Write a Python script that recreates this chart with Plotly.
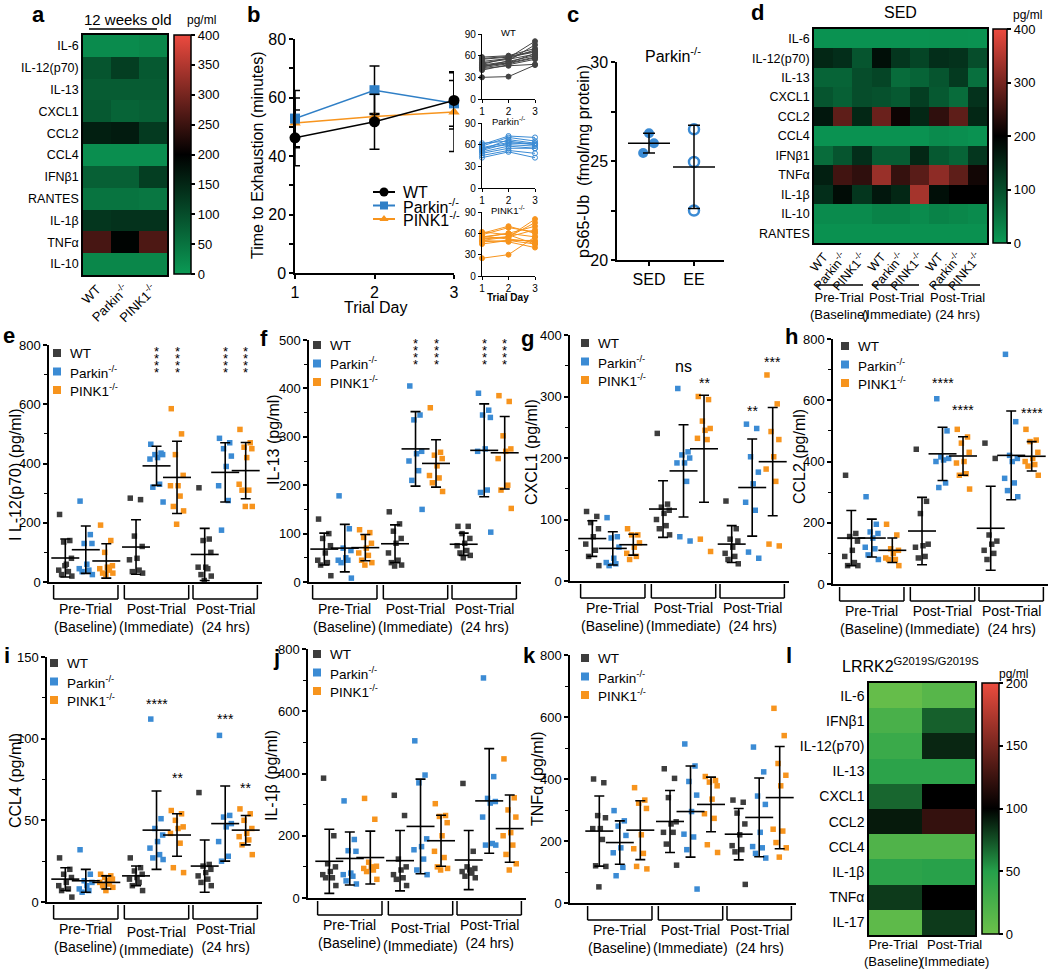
import plotly.graph_objects as go

W, H = 1050, 969
FONT = "Liberation Sans, Arial, Helvetica, sans-serif"
C_WT, C_PK, C_P1 = "#3d3d3d", "#3b8bd4", "#f7941d"
GENO = ["WT", "Parkin<sup>-/-</sup>", "PINK1<sup>-/-</sup>"]

# ---------------- DATA ----------------
# panel a (12 weeks old)
a_rows = ["IL-6", "IL-12(p70)", "IL-13", "CXCL1", "CCL2", "CCL4", "IFNβ1", "RANTES", "IL-1β", "TNFα", "IL-10"]
a_vals = [[20, 20, 25], [90, 120, 85], [80, 80, 80], [85, 70, 75], [160, 165, 125], [15, 15, 15],
          [75, 75, 120], [50, 50, 45], [130, 135, 135], [260, 195, 265], [25, 25, 25]]

# panel b
b_days = [1, 2, 3]
b_wt_mean = [46.2, 51.7, 59.0]
b_wt_sd = [9.5, 9.4, 9.8]
b_pk_mean = [52.8, 62.5, 58.0]
b_pk_sd = [9.6, 8.3, 7.8]
b_p1_mean = [51.3, 53.5, 55.0]
b_p1_sd = [8.5, 1.0, 13.5]
wt_ind = [[30, 31, 47], [42, 46, 48], [45, 50, 58], [50, 55, 62], [55, 58, 65], [58, 60, 70], [40, 48, 55],
          [47, 52, 60], [52, 56, 68], [44, 53, 75], [48, 57, 80], [46, 50, 63], [56, 59, 66], [43, 49, 57]]
pk_ind = [[42, 50, 42], [48, 55, 55], [55, 60, 58], [60, 72, 70], [62, 65, 60], [52, 62, 62], [58, 70, 65],
          [50, 58, 55], [56, 63, 60], [45, 52, 48], [53, 67, 62]]
p1_ind = [[25, 30, 55], [48, 50, 45], [52, 55, 80], [55, 60, 70], [58, 68, 62], [50, 48, 40], [53, 55, 65],
          [60, 70, 60], [45, 50, 50], [56, 52, 48], [62, 58, 45], [50, 55, 75], [54, 60, 55]]

# panel c
c_groups = ["SED", "EE"]
c_sed = [26.4, 25.9, 25.4]
c_ee = [26.6, 24.95, 22.5]
c_mean = [25.9, 24.7]
c_sd = [0.5, 2.1]

# panel d (SED)
d_rows = ["IL-6", "IL-12(p70)", "IL-13", "CXCL1", "CCL2", "CCL4", "IFNβ1", "TNFα", "IL-1β", "IL-10", "RANTES"]
d_vals = [[10, 10, 10, 10, 10, 10, 12, 12, 10],
          [150, 140, 90, 180, 130, 110, 140, 135, 100],
          [70, 70, 100, 110, 60, 70, 90, 125, 55],
          [90, 75, 100, 95, 85, 120, 85, 60, 135],
          [170, 280, 150, 290, 210, 150, 240, 280, 150],
          [10, 10, 10, 10, 10, 10, 20, 15, 10],
          [60, 90, 140, 80, 80, 150, 85, 70, 130],
          [160, 255, 240, 330, 245, 275, 320, 280, 215],
          [140, 185, 130, 170, 150, 340, 180, 200, 200],
          [20, 20, 20, 30, 30, 20, 30, 25, 20],
          [12, 12, 12, 12, 12, 12, 12, 12, 12]]
periods = ["Pre-Trial<br>(Baseline)", "Post-Trial<br>(Immediate)", "Post-Trial<br>(24 hrs)"]

# panels e-k: 9 groups = (Pre WT, Pre Parkin, Pre PINK1, Imm WT, ..., 24h PINK1)
e_pts = [[228, 140, 135, 80, 60, 40, 35, 25, 20, 55], [273, 160, 130, 130, 60, 45, 40, 35, 25],
         [192, 140, 100, 55, 50, 45, 40, 30, 30, 25], [283, 278, 155, 120, 80, 75, 40, 35, 30],
         [465, 435, 430, 430, 420, 415, 330, 320, 270], [585, 500, 430, 360, 325, 325, 290, 255, 240, 195],
         [318, 145, 140, 100, 50, 50, 45, 25, 20, 5], [485, 470, 450, 425, 390, 325, 275, 175],
         [515, 470, 455, 450, 420, 330, 310, 310, 255, 255]]
e_mean = [81, 109, 71, 118, 392, 353, 93, 370, 376]
e_sd = [64, 80, 58, 92, 66, 122, 88, 100, 95]

f_pts = [[130, 100, 90, 75, 60, 45, 40, 35, 13], [178, 110, 70, 65, 50, 45, 45, 40, 8],
         [108, 102, 92, 80, 70, 60, 55, 45, 40, 35], [145, 120, 105, 90, 80, 60, 45, 40, 35, 33],
         [405, 345, 335, 270, 265, 250, 230, 210, 150], [360, 268, 262, 255, 240, 220, 215, 205, 187],
         [115, 115, 100, 90, 80, 75, 65, 60, 55, 50], [390, 355, 345, 340, 275, 270, 190, 185, 103],
         [385, 373, 302, 275, 270, 255, 200, 190, 152]]
f_mean = [68, 70, 71, 79, 275, 245, 78, 272, 267]
f_sd = [33, 49, 27, 39, 77, 49, 23, 96, 75]

g_pts = [[113, 105, 95, 85, 72, 60, 50, 40, 25], [103, 72, 70, 55, 37, 30, 28, 25],
         [85, 75, 75, 62, 55, 45, 40, 35], [240, 125, 120, 115, 110, 100, 90, 85, 75],
         [313, 210, 205, 200, 192, 192, 162, 72, 65], [300, 295, 260, 248, 245, 232, 230, 68, 48],
         [130, 85, 68, 65, 55, 45, 40, 35, 28], [255, 248, 202, 177, 158, 128, 115, 47, 37],
         [335, 288, 243, 230, 202, 182, 162, 60, 57]]
g_mean = [69, 53, 59, 117, 179, 215, 60, 152, 194]
g_sd = [29, 27, 17, 46, 75, 87, 30, 79, 88]

h_pts = [[355, 165, 155, 140, 110, 90, 70, 60, 60], [285, 195, 170, 165, 150, 120, 115, 95, 80],
         [195, 160, 115, 110, 100, 85, 80, 80, 60], [440, 270, 230, 130, 125, 120, 90, 85],
         [605, 500, 415, 410, 405, 400, 330, 315], [505, 480, 460, 430, 400, 395, 360, 355, 310],
         [460, 410, 160, 140, 130, 110, 100, 80], [750, 530, 420, 410, 400, 345, 330, 305, 285],
         [505, 470, 465, 430, 410, 400, 390, 385, 355]]
h_mean = [150, 150, 110, 173, 425, 418, 182, 420, 417]
h_sd = [90, 62, 40, 110, 87, 63, 137, 145, 48]

i_pts = [[27, 20, 17, 15, 12, 10, 8, 7, 3], [32, 17, 13, 12, 10, 8, 7, 6],
         [17, 16, 15, 14, 13, 12, 11, 10, 9, 7], [27, 21, 19, 17, 15, 14, 12, 10, 7],
         [112, 51, 45, 41, 37, 33, 29, 27, 26], [56, 54, 50, 46, 45, 42, 36, 21, 18],
         [67, 23, 22, 20, 18, 16, 14, 12, 10], [102, 53, 52, 48, 46, 37, 28, 25],
         [57, 54, 50, 45, 42, 40, 38, 35, 29]]
i_mean = [14, 13, 12, 16, 44, 41, 22, 48, 44]
i_sd = [7, 7, 4, 6, 24, 13, 16, 23, 9]

j_pts = [[385, 200, 110, 100, 85, 75, 65, 65, 40], [312, 188, 152, 150, 80, 75, 70, 55, 45],
         [320, 253, 115, 102, 100, 95, 90, 85, 60], [330, 265, 125, 100, 90, 75, 65, 60, 40],
         [505, 395, 370, 190, 165, 155, 125, 90, 75], [303, 265, 262, 242, 200, 150, 130, 100, 95, 90],
         [368, 150, 100, 95, 90, 85, 80, 70, 65], [707, 390, 320, 310, 305, 260, 175, 170, 170],
         [447, 322, 283, 260, 210, 200, 170, 140, 110, 90]]
j_mean = [118, 127, 130, 120, 230, 184, 122, 312, 223]
j_sd = [103, 85, 85, 97, 152, 82, 95, 168, 108]

k_pts = [[400, 388, 282, 275, 240, 240, 205, 120, 118, 52], [298, 265, 248, 218, 178, 162, 115, 88],
         [372, 332, 322, 305, 220, 175, 160, 118, 110], [433, 402, 340, 262, 255, 228, 228, 190, 122],
         [513, 442, 392, 348, 295, 222, 213, 172, 45], [408, 395, 390, 378, 335, 288, 273, 188, 163],
         [332, 325, 290, 255, 220, 185, 172, 165, 60], [503, 423, 345, 318, 228, 182, 178, 160, 145],
         [628, 540, 450, 412, 378, 238, 232, 195, 178, 148]]
k_mean = [232, 195, 235, 263, 295, 318, 222, 276, 340]
k_sd = [113, 70, 95, 100, 147, 88, 83, 127, 165]

# significance labels: (group index, text, y value, vertical stack?)
e_sig = [(4, "****", 778, True), (5, "****", 778, True), (7, "****", 778, True), (8, "****", 778, True)]
f_sig = [(4, "****", 492, True), (5, "****", 492, True), (7, "****", 492, True), (8, "****", 492, True)]
g_sig = [(4, "ns", 349, False), (5, "**", 322, False), (7, "**", 276, False), (8, "***", 356, False)]
h_sig = [(4, "****", 656, False), (5, "****", 568, False), (7, "****", 806, False), (8, "****", 558, False)]
i_sig = [(4, "****", 121, False), (5, "**", 76, False), (7, "***", 112, False), (8, "**", 70, False)]

# panel l
l_rows = ["IL-6", "IFNβ1", "IL-12(p70)", "IL-13", "CXCL1", "CCL2", "CCL4", "IL-1β", "TNFα", "IL-17"]
l_cols = ["Pre-Trial<br>(Baseline)", "Post-Trial<br>(Immediate)"]
l_vals = [[5, 15], [25, 70], [35, 88], [45, 45], [68, 100], [92, 122], [20, 20], [45, 48], [82, 100], [10, 82]]

# ---------------- HELPERS ----------------
traces, shapes, annotations, layout_axes = [], [], [], {}
count = [0]


def X(x):
    return x / W


def Y(y):
    return 1 - y / H


def new_axes(x0, x1, y0, y1, xa, ya):
    count[0] += 1
    s = "" if count[0] == 1 else str(count[0])
    xa = dict(xa)
    ya = dict(ya)
    xa.update(domain=[X(x0), X(x1)], anchor="y" + s)
    ya.update(domain=[Y(y1), Y(y0)], anchor="x" + s)
    layout_axes["xaxis" + s] = xa
    layout_axes["yaxis" + s] = ya
    return "x" + s, "y" + s


def lax(**kw):
    d = dict(showline=True, linecolor="black", linewidth=1.5, ticks="outside", ticklen=4, tickwidth=1.5,
             tickcolor="black", showgrid=False, zeroline=False, tickfont=dict(size=13, color="black"),
             fixedrange=True, automargin=False)
    d.update(kw)
    return d


def hax(**kw):
    d = dict(showline=True, mirror=True, linecolor="black", linewidth=1.5, ticks="", showgrid=False,
             zeroline=False, tickfont=dict(size=12.5, color="black"), fixedrange=True, automargin=False)
    d.update(kw)
    return d


def pline(x0, y0, x1, y1, w=1.5):
    shapes.append(dict(type="line", xref="paper", yref="paper", x0=X(x0), x1=X(x1), y0=Y(y0), y1=Y(y1),
                       line=dict(color="black", width=w)))


def ptext(x, y, text, size=13, xanchor="center", yanchor="middle", **kw):
    annotations.append(dict(xref="paper", yref="paper", x=X(x), y=Y(y), text=text, showarrow=False,
                            font=dict(size=size, color="black", family=FONT), xanchor=xanchor,
                            yanchor=yanchor, **kw))


def vtitle(x, y, text, size=16):
    ptext(x, y, text, size=size, textangle=-90)


def letter(x, y, t):
    ptext(x, y, "<b>%s</b>" % t, size=22)


GREEN_BLACK_RED = [[0, "#0b9a55"], [0.5, "#000000"], [1, "#ec4a3f"]]


def cbar(x0, y0, y1, thick, tickvals, size=13):
    return dict(x=X(x0), xanchor="left", y=Y((y0 + y1) / 2), yanchor="middle", len=(y1 - y0) / H,
                lenmode="fraction", thickness=thick, thicknessmode="pixels", xpad=0, ypad=0,
                outlinewidth=1.5, outlinecolor="black", tickvals=tickvals, ticks="outside", ticklen=4,
                tickwidth=1.5, tickcolor="black", tickfont=dict(size=size, color="black"))


# ---------------- PANEL a ----------------
xa_, ya_ = new_axes(83, 167, 35, 275,
                    hax(tickvals=[0, 1, 2], ticktext=GENO, tickangle=-45, tickfont=dict(size=13)),
                    hax(type="category", autorange="reversed"))
traces.append(go.Heatmap(z=a_vals, x=[0, 1, 2], y=a_rows, xaxis=xa_, yaxis=ya_, zmin=0, zmax=400,
                         colorscale=GREEN_BLACK_RED,
                         colorbar=cbar(174, 35, 274, 17, [0, 50, 100, 150, 200, 250, 300, 350, 400], 13)))
ptext(128, 19, "12 weeks old", size=15)
pline(89, 29, 157, 29, 1.5)
ptext(201, 20, "pg/ml", size=12)
letter(38, 15, "a")

# ---------------- PANEL b ----------------
BX0, BX1, BY0, BY1 = 295, 454, 39, 273
xb, yb = new_axes(BX0, BX1, BY0, BY1,
                  lax(range=[1, 3], tickvals=[1, 2, 3], tickfont=dict(size=16)),
                  lax(range=[0, 80], tickvals=[0, 20, 40, 60, 80], tickfont=dict(size=16),
                      minor=dict(dtick=10, ticks="outside", ticklen=4, tickwidth=1.5, tickcolor="black")))
for mean, sd, col, sym, msz in [(b_p1_mean, b_p1_sd, C_P1, "triangle-up", 10),
                                (b_pk_mean, b_pk_sd, "#2f7fc6", "square", 10),
                                (b_wt_mean, b_wt_sd, "black", "circle", 11)]:
    traces.append(go.Scatter(x=b_days, y=mean, xaxis=xb, yaxis=yb, mode="lines+markers", cliponaxis=False,
                             line=dict(color=col, width=1.5), marker=dict(symbol=sym, size=msz, color=col),
                             error_y=dict(type="data", array=sd, color="black", thickness=1.5, width=5)))
vtitle(258, 156, "Time to Exhaustion (minutes)", 16)
ptext(375, 308, "Trial Day", size=16)
# legend b (glyph positions converted to b's data space)
for k, (name, col, sym, msz) in enumerate([("WT", "black", "circle", 9),
                                           ("Parkin<sup>-/-</sup>", "#2f7fc6", "square", 8),
                                           ("PINK1<sup>-/-</sup>", C_P1, "triangle-up", 8)]):
    yy = 192 + k * 13.5
    shapes.append(dict(type="line", xref="paper", yref="paper", x0=X(373), x1=X(395), y0=Y(yy), y1=Y(yy),
                       line=dict(color=col, width=2)))
    traces.append(go.Scatter(x=[1 + (384 - BX0) / (BX1 - BX0) * 2], y=[(BY1 - yy) / (BY1 - BY0) * 80],
                             xaxis=xb, yaxis=yb, mode="markers", cliponaxis=False,
                             marker=dict(symbol=sym, size=msz, color=col)))
    ptext(401, yy, name, size=16, xanchor="left")
letter(253, 15, "b")

# insets
for title, data, col, sym, y0, y1 in [("WT", wt_ind, "#444444", "circle", 34, 99),
                                      ("Parkin<sup>-/-</sup>", pk_ind, "#3b8bd4", "circle-open", 123, 188),
                                      ("PINK1<sup>-/-</sup>", p1_ind, C_P1, "circle", 212, 276)]:
    xi, yi = new_axes(482, 535, y0, y1,
                      lax(range=[1, 3], tickvals=[1, 2, 3], tickfont=dict(size=10), ticklen=3, linewidth=1.2,
                          tickwidth=1.2),
                      lax(range=[0, 90], tickvals=[0, 30, 60, 90], tickfont=dict(size=10), ticklen=3,
                          linewidth=1.2, tickwidth=1.2))
    xs, ys = [], []
    for row in data:
        xs += b_days + [None]
        ys += row + [None]
    traces.append(go.Scatter(x=xs, y=ys, xaxis=xi, yaxis=yi, mode="lines+markers", cliponaxis=False,
                             line=dict(color=col, width=1),
                             marker=dict(symbol=sym, size=5, color=col, line=dict(color=col, width=1))))
    ptext(508, y0 - 2, title, size=9.5)
ptext(508, 297, "<b>Trial Day</b>", size=10)

# ---------------- PANEL c ----------------
s_c = 45.0
xc, yc = new_axes(617, 724, 62, 260,
                  lax(range=[(617 - 649) / s_c, (724 - 649) / s_c], tickvals=[0, 1], ticktext=c_groups,
                      tickfont=dict(size=16)),
                  lax(range=[20, 30], tickvals=[20, 25, 30], tickfont=dict(size=16),
                      minor=dict(dtick=2.5, ticks="outside", ticklen=4, tickwidth=1.5, tickcolor="black")))
c_jit = [0.0, 0.11, -0.13]
traces.append(go.Scatter(x=c_jit, y=c_sed, xaxis=xc, yaxis=yc, mode="markers",
                         marker=dict(size=10, color="#3b8bd4")))
traces.append(go.Scatter(x=[1] * len(c_ee), y=c_ee, xaxis=xc, yaxis=yc, mode="markers",
                         marker=dict(symbol="circle-open", size=10, color="#3b8bd4", line=dict(width=2.5))))
traces.append(go.Scatter(x=[0, 1], y=c_mean, xaxis=xc, yaxis=yc, mode="markers",
                         marker=dict(symbol="line-ew", size=30, line=dict(width=1.5, color="black")),
                         error_y=dict(type="data", array=c_sd, color="black", thickness=1.5, width=6)))
vtitle(584, 162, "pS65-Ub  (fmol/mg protein)", 16)
ptext(673, 55, "Parkin<sup>-/-</sup>", size=16)
letter(573, 14, "c")

# ---------------- PANEL d ----------------
xd, yd = new_axes(814, 987, 29, 243,
                  hax(tickvals=list(range(9)), ticktext=GENO * 3, tickangle=-50, tickfont=dict(size=12.5)),
                  hax(type="category", autorange="reversed"))
traces.append(go.Heatmap(z=d_vals, x=list(range(9)), y=d_rows, xaxis=xd, yaxis=yd, zmin=0, zmax=400,
                         colorscale=GREEN_BLACK_RED,
                         colorbar=cbar(993, 29, 243, 14, [0, 100, 200, 300, 400], 13)))
for (a0, a1), c, lab in zip([(816, 863), (872, 919), (932, 980)], [839, 896, 957], periods):
    pline(a0, 285, a1, 285, 1.5)
    ptext(c, 288, lab, size=13, yanchor="top")
ptext(900, 13, "SED", size=16)
ptext(1027, 15, "pg/ml", size=12)
letter(757, 12, "d")

# ---------------- PANELS e-k ----------------
S = 20.5
POS = [0, 1, 2, 3.45, 4.45, 5.45, 6.8, 7.8, 8.8]
CENT = [1, 4.45, 7.8]
JIT = [-0.28, 0.22, -0.08, 0.3, 0.05, -0.32, 0.15, -0.18, 0.32, -0.02]
COLS = [C_WT, C_PK, C_P1]


def dot_panel(axis_x, pos0, ytop, ybot, ymax, dtick, ytitle, title_xy, pts, mean, sd, sig, leg_x, leg_y,
              imm_shift=0):
    xr0 = (axis_x - pos0) / S
    xr1 = 9.6
    xn, yn = new_axes(axis_x, pos0 + xr1 * S, ytop, ybot,
                      lax(range=[xr0, xr1], showticklabels=False, ticks=""),
                      lax(range=[0, ymax], tickvals=list(range(0, ymax + 1, dtick)), tickfont=dict(size=13),
                          minor=dict(dtick=dtick / 2, ticks="outside", ticklen=3, tickwidth=1.2,
                                     tickcolor="black")))
    vtitle(title_xy[0], title_xy[1], ytitle, 16)
    for gi in range(3):
        xs, ys = [], []
        for g in range(gi, 9, 3):
            for k, v in enumerate(pts[g]):
                xs.append(POS[g] + JIT[k % len(JIT)])
                ys.append(v)
        traces.append(go.Scatter(x=xs, y=ys, xaxis=xn, yaxis=yn, mode="markers", cliponaxis=False,
                                 marker=dict(symbol="square", size=5.5, color=COLS[gi])))
    traces.append(go.Scatter(x=POS, y=mean, xaxis=xn, yaxis=yn, mode="markers", cliponaxis=False,
                             marker=dict(symbol="line-ew", size=20, line=dict(width=1.6, color="black")),
                             error_y=dict(type="data", array=sd, color="black", thickness=1.6, width=5)))
    # brackets
    for ci, c in enumerate(CENT):
        x0, x1 = c - 1.57, c + 1.57
        for xa0, ya0, xa1, ya1 in [(x0, ybot + 3, x0, ybot + 17), (x0, ybot + 17, x1, ybot + 17),
                                   (x1, ybot + 3, x1, ybot + 17)]:
            shapes.append(dict(type="line", xref=xn, yref="paper", x0=xa0, x1=xa1, y0=Y(ya0), y1=Y(ya1),
                               line=dict(color="black", width=1.5)))
        annotations.append(dict(xref=xn, yref="paper", x=c, y=Y(ybot + 17 + (imm_shift if ci == 1 else 0)),
                                text=periods[ci], showarrow=False, xanchor="center", yanchor="top",
                                font=dict(size=14, color="black", family=FONT)))
    # significance
    for g, txt, yv, vert in sig:
        if vert:
            for k in range(len(txt)):
                annotations.append(dict(xref=xn, yref=yn, x=POS[g], y=yv, yshift=-7 * k, text="*",
                                        showarrow=False, font=dict(size=13, color="black", family=FONT)))
        else:
            annotations.append(dict(xref=xn, yref=yn, x=POS[g], y=yv, text=txt, showarrow=False,
                                    font=dict(size=14 if txt != "ns" else 16, color="black", family=FONT)))
    # legend
    for gi in range(3):
        yy = leg_y + gi * 18.5
        shapes.append(dict(type="rect", xref="paper", yref="paper", x0=X(leg_x - 4), x1=X(leg_x + 4),
                           y0=Y(yy - 4), y1=Y(yy + 4), fillcolor=COLS[gi], line=dict(width=0)))
        ptext(leg_x + 11, yy, GENO[gi], size=13.5, xanchor="left")


dot_panel(49, 65.3, 345, 582, 800, 200, "I L-12(p70) (pg/ml)", (15, 475), e_pts, e_mean, e_sd, e_sig, 57, 353)
dot_panel(309, 324.3, 340, 582, 500, 100, "IL-13 (pg/ml)", (273, 440), f_pts, f_mean, f_sd, f_sig, 317, 345)
dot_panel(570, 592.3, 335, 581, 400, 100, "CXCL1 (pg/ml)", (531, 452), g_pts, g_mean, g_sd, g_sig, 585, 343)
dot_panel(833, 851.3, 339, 584, 800, 200, "CCL2 (pg/ml)", (799, 457), h_pts, h_mean, h_sd, h_sig, 845, 346)
dot_panel(47, 65.3, 657, 902, 150, 50, "CCL4 (pg/ml)", (15, 781), i_pts, i_mean, i_sd, i_sig, 54, 663, 3)
dot_panel(308, 329.3, 649, 898, 800, 200, "IL-1β (pg/ml)", (271, 776), j_pts, j_mean, j_sd, [], 317, 654, 3)
dot_panel(570, 599.3, 655, 903, 800, 200, "TNFα (pg/ml)", (537, 779), k_pts, k_mean, k_sd, [], 585, 658)
letter(9, 335, "e")
letter(264, 338, "f")
letter(527, 338, "g")
letter(791, 337, "h")
letter(7, 655, "i")
letter(276, 657, "j")
letter(529, 655, "k")

# ---------------- PANEL l ----------------
xl, yl = new_axes(869, 975, 683, 935,
                  hax(tickvals=[0, 1], showticklabels=False),
                  hax(type="category", autorange="reversed", tickfont=dict(size=14)))
traces.append(go.Heatmap(z=l_vals, x=[0, 1], y=l_rows, xaxis=xl, yaxis=yl, zmin=0, zmax=200,
                         colorscale=[[0, "#6cc04a"], [0.25, "#25a04a"], [0.5, "#000000"], [1, "#ec4c3e"]],
                         colorbar=cbar(982, 683, 934, 17, [0, 50, 100, 150, 200], 13)))
for xc_, lab in zip([893, 954], l_cols):
    ptext(xc_, 935, lab, size=13, yanchor="top")
ptext(910, 665, "LRRK2<sup>G2019S/G2019S</sup>", size=16)
ptext(1013, 674, "pg/ml", size=12)
letter(789, 655, "l")

fig = go.Figure(data=traces)
fig.update_layout(width=W, height=H, margin=dict(l=0, r=0, t=0, b=0, autoexpand=False),
                  paper_bgcolor="white", plot_bgcolor="white", showlegend=False,
                  font=dict(family=FONT, color="black"),
                  shapes=shapes, annotations=annotations, **layout_axes)
fig.write_html("out.html", config={"displayModeBar": False},
               post_script="document.body.style.margin='0';document.body.style.padding='0';")
